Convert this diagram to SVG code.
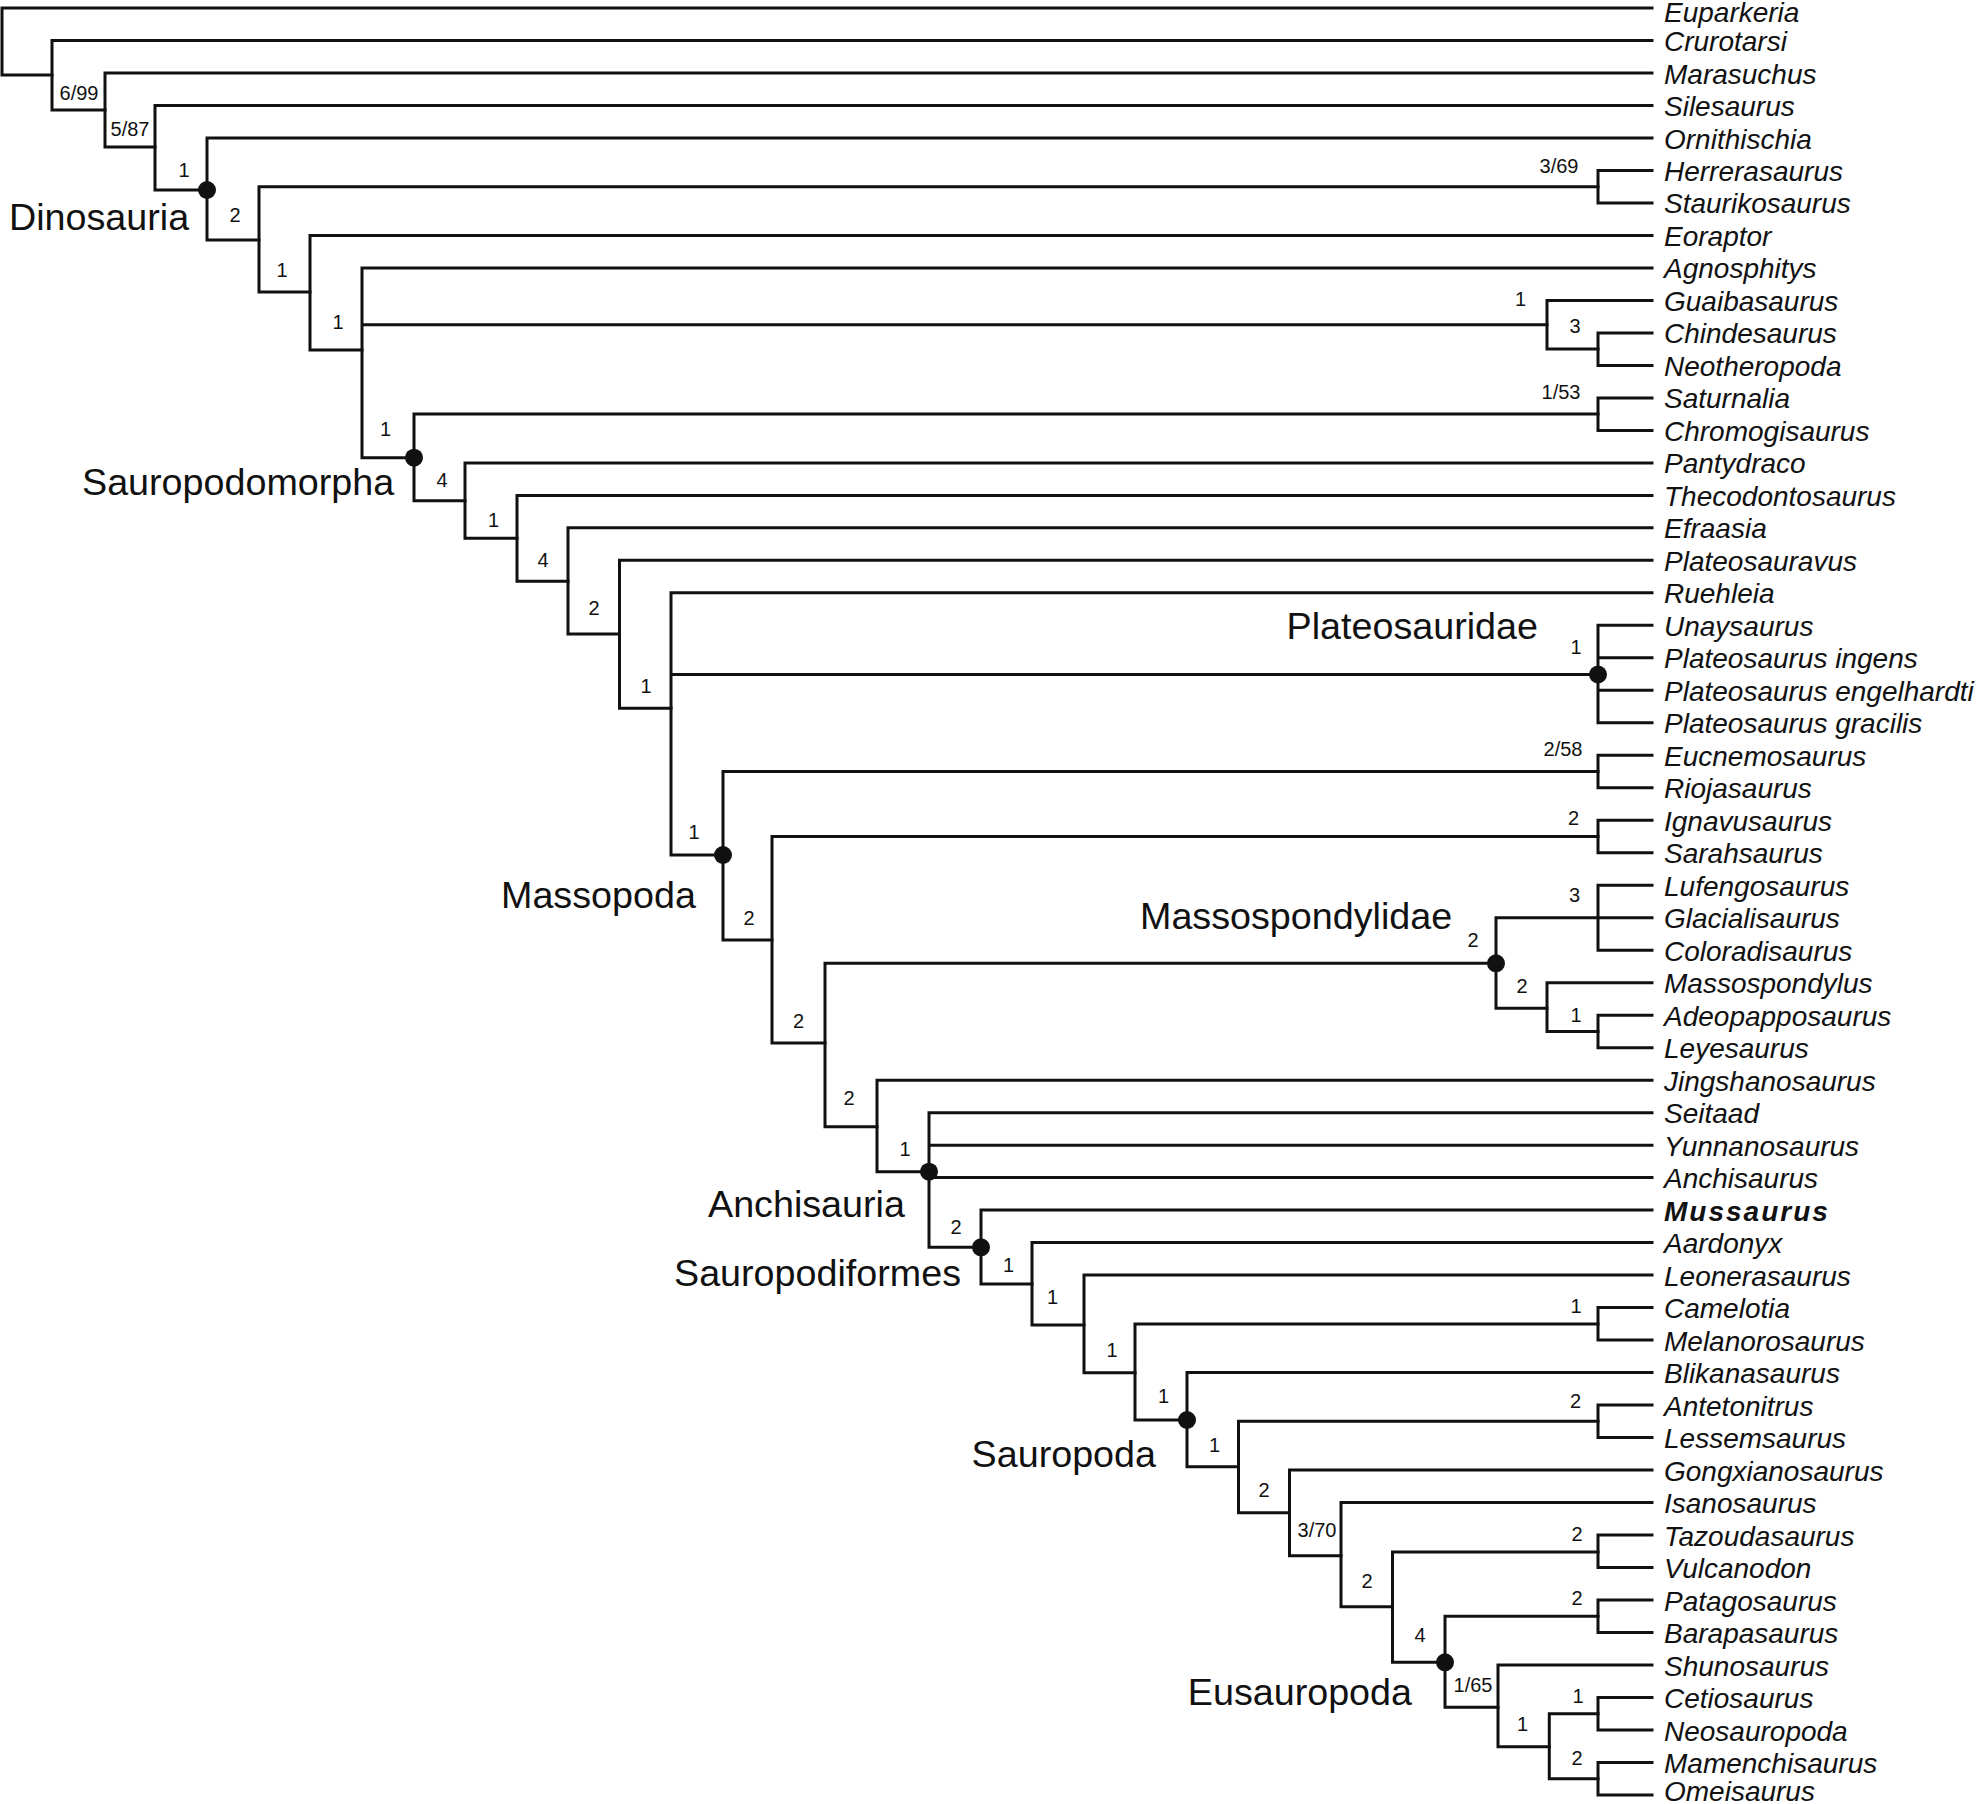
<svg xmlns="http://www.w3.org/2000/svg" width="1978" height="1804" viewBox="0 0 1978 1804">
<style>
.br{fill:none;stroke:#111;stroke-width:3;stroke-linecap:square;stroke-linejoin:miter}
.tx{font-family:"Liberation Sans",Arial,sans-serif;font-style:italic;font-size:28px;fill:#111}
.bold{font-weight:bold;letter-spacing:2px}
.sp{font-family:"Liberation Sans",Arial,sans-serif;font-size:20px;fill:#111;text-anchor:middle}
.cl{font-family:"Liberation Sans",Arial,sans-serif;font-size:37.7px;fill:#111}
.dot{fill:#111}
</style>
<rect width="1978" height="1804" fill="#fff"/>
<g id="connectors">
<path class="br" d="M1652,8 H2 V75 H52"/>
<path class="br" d="M1652,40.5 H52 V110 H105"/>
<path class="br" d="M1652,73 H105 V147 H155"/>
<path class="br" d="M1652,105.5 H155 V190 H207"/>
<path class="br" d="M1652,138 H207 V240 H259"/>
<path class="br" d="M1598,186.7 H259 V292 H310"/>
<path class="br" d="M1652,170.5 H1598 V202.9 H1652"/>
<path class="br" d="M1652,235.4 H310 V350 H362"/>
<path class="br" d="M1652,267.9 H362 V457.7 H414 M362,324.7 H1547"/>
<path class="br" d="M1652,300.4 H1547 V349.1 H1598"/>
<path class="br" d="M1652,332.9 H1598 V365.4 H1652"/>
<path class="br" d="M1598,414.1 H414 V500.7 H465"/>
<path class="br" d="M1652,397.9 H1598 V430.4 H1652"/>
<path class="br" d="M1652,462.9 H465 V538.3 H517"/>
<path class="br" d="M1652,495.4 H517 V581.3 H568"/>
<path class="br" d="M1652,527.8 H568 V634 H619.5"/>
<path class="br" d="M1652,560.3 H619.5 V708.3 H671"/>
<path class="br" d="M1652,592.8 H671 V855 H723 M671,674.5 H1598"/>
<path class="br" d="M1652,625.3 H1598 V722.8 H1652 M1598,657.8 H1652 M1598,690.3 H1652"/>
<path class="br" d="M1598,771.5 H723 V940 H772"/>
<path class="br" d="M1652,755.3 H1598 V787.8 H1652"/>
<path class="br" d="M1598,836.5 H772 V1043 H825"/>
<path class="br" d="M1652,820.3 H1598 V852.7 H1652"/>
<path class="br" d="M1496,963.3 H825 V1126.7 H877"/>
<path class="br" d="M1598,917.7 H1496 V1008.3 H1547"/>
<path class="br" d="M1652,885.2 H1598 V950.2 H1652 M1598,917.7 H1652"/>
<path class="br" d="M1652,982.7 H1547 V1031.5 H1598"/>
<path class="br" d="M1652,1015.2 H1598 V1047.7 H1652"/>
<path class="br" d="M1652,1080.2 H877 V1171.7 H929"/>
<path class="br" d="M1652,1112.7 H929 V1247.3 H981 M929,1145.2 H1652 M929,1177.6 H1652"/>
<path class="br" d="M1652,1210.1 H981 V1284 H1032"/>
<path class="br" d="M1652,1242.6 H1032 V1325 H1084"/>
<path class="br" d="M1652,1275.1 H1084 V1372.7 H1135"/>
<path class="br" d="M1598,1323.9 H1135 V1420 H1187"/>
<path class="br" d="M1652,1307.6 H1598 V1340.1 H1652"/>
<path class="br" d="M1652,1372.6 H1187 V1466.7 H1238.5"/>
<path class="br" d="M1598,1421.3 H1238.5 V1512.7 H1289.5"/>
<path class="br" d="M1652,1405.1 H1598 V1437.6 H1652"/>
<path class="br" d="M1652,1470.1 H1289.5 V1555.7 H1341"/>
<path class="br" d="M1652,1502.5 H1341 V1606.7 H1392.5"/>
<path class="br" d="M1598,1552 H1392.5 V1662.3 H1445"/>
<path class="br" d="M1652,1535 H1598 V1567.5 H1652"/>
<path class="br" d="M1598,1616.2 H1445 V1707.3 H1498"/>
<path class="br" d="M1652,1600 H1598 V1632.5 H1652"/>
<path class="br" d="M1652,1665 H1498 V1746.7 H1549.3"/>
<path class="br" d="M1598,1713.7 H1549.3 V1778.7 H1598"/>
<path class="br" d="M1652,1697.5 H1598 V1730 H1652"/>
<path class="br" d="M1652,1762.5 H1598 V1795 H1652"/>
</g>
<g id="clade-dinosauria"><circle class="dot" cx="207" cy="190" r="9"/><text class="cl" x="9" y="230">Dinosauria</text></g>
<g id="clade-sauropodomorpha"><circle class="dot" cx="414" cy="457.7" r="9"/><text class="cl" x="82" y="495">Sauropodomorpha</text></g>
<g id="clade-plateosauridae"><circle class="dot" cx="1598" cy="674.5" r="9"/><text class="cl" x="1538" y="639" text-anchor="end">Plateosauridae</text></g>
<g id="clade-massopoda"><circle class="dot" cx="723" cy="855" r="9"/><text class="cl" x="501" y="908">Massopoda</text></g>
<g id="clade-massospondylidae"><circle class="dot" cx="1496" cy="963.3" r="9"/><text class="cl" x="1140" y="929">Massospondylidae</text></g>
<g id="clade-anchisauria"><circle class="dot" cx="929" cy="1171.7" r="9"/><text class="cl" x="708" y="1216.5">Anchisauria</text></g>
<g id="clade-sauropodiformes"><circle class="dot" cx="981" cy="1247.3" r="9"/><text class="cl" x="674" y="1286">Sauropodiformes</text></g>
<g id="clade-sauropoda"><circle class="dot" cx="1187" cy="1420" r="9"/><text class="cl" x="1156" y="1467" text-anchor="end">Sauropoda</text></g>
<g id="clade-eusauropoda"><circle class="dot" cx="1445" cy="1662.3" r="9"/><text class="cl" x="1412" y="1705" text-anchor="end">Eusauropoda</text></g>
<g id="support">
<text class="sp" x="79" y="100">6/99</text>
<text class="sp" x="130" y="136">5/87</text>
<text class="sp" x="184" y="177">1</text>
<text class="sp" x="235" y="222">2</text>
<text class="sp" x="282" y="277">1</text>
<text class="sp" x="338" y="329">1</text>
<text class="sp" x="385.5" y="436">1</text>
<text class="sp" x="442" y="487">4</text>
<text class="sp" x="493.5" y="527">1</text>
<text class="sp" x="543" y="567">4</text>
<text class="sp" x="594" y="615">2</text>
<text class="sp" x="646" y="693">1</text>
<text class="sp" x="694" y="839">1</text>
<text class="sp" x="749" y="925">2</text>
<text class="sp" x="798.5" y="1028">2</text>
<text class="sp" x="849" y="1105">2</text>
<text class="sp" x="905" y="1156">1</text>
<text class="sp" x="956" y="1234">2</text>
<text class="sp" x="1008.5" y="1272">1</text>
<text class="sp" x="1052.5" y="1304">1</text>
<text class="sp" x="1112" y="1357">1</text>
<text class="sp" x="1163.5" y="1403">1</text>
<text class="sp" x="1214.5" y="1452">1</text>
<text class="sp" x="1264" y="1497">2</text>
<text class="sp" x="1317" y="1537">3/70</text>
<text class="sp" x="1367" y="1588">2</text>
<text class="sp" x="1420" y="1642">4</text>
<text class="sp" x="1473" y="1692">1/65</text>
<text class="sp" x="1522.5" y="1731">1</text>
<text class="sp" x="1559" y="173">3/69</text>
<text class="sp" x="1520.5" y="306">1</text>
<text class="sp" x="1575" y="333">3</text>
<text class="sp" x="1561" y="399">1/53</text>
<text class="sp" x="1576" y="654">1</text>
<text class="sp" x="1563" y="756">2/58</text>
<text class="sp" x="1573.5" y="825">2</text>
<text class="sp" x="1473" y="947">2</text>
<text class="sp" x="1574.5" y="902">3</text>
<text class="sp" x="1522" y="993">2</text>
<text class="sp" x="1576" y="1022">1</text>
<text class="sp" x="1576" y="1313">1</text>
<text class="sp" x="1575.5" y="1408">2</text>
<text class="sp" x="1577" y="1541">2</text>
<text class="sp" x="1577" y="1605">2</text>
<text class="sp" x="1578" y="1703">1</text>
<text class="sp" x="1577" y="1765">2</text>
</g>
<g id="taxa">
<g id="t-euparkeria"><text class="tx" x="1664" y="21.5">Euparkeria</text></g>
<g id="t-crurotarsi"><text class="tx" x="1664" y="51">Crurotarsi</text></g>
<g id="t-marasuchus"><text class="tx" x="1664" y="83.5">Marasuchus</text></g>
<g id="t-silesaurus"><text class="tx" x="1664" y="116">Silesaurus</text></g>
<g id="t-ornithischia"><text class="tx" x="1664" y="148.5">Ornithischia</text></g>
<g id="t-herrerasaurus"><text class="tx" x="1664" y="181">Herrerasaurus</text></g>
<g id="t-staurikosaurus"><text class="tx" x="1664" y="213.4">Staurikosaurus</text></g>
<g id="t-eoraptor"><text class="tx" x="1664" y="245.9">Eoraptor</text></g>
<g id="t-agnosphitys"><text class="tx" x="1664" y="278.4">Agnosphitys</text></g>
<g id="t-guaibasaurus"><text class="tx" x="1664" y="310.9">Guaibasaurus</text></g>
<g id="t-chindesaurus"><text class="tx" x="1664" y="343.4">Chindesaurus</text></g>
<g id="t-neotheropoda"><text class="tx" x="1664" y="375.9">Neotheropoda</text></g>
<g id="t-saturnalia"><text class="tx" x="1664" y="408.4">Saturnalia</text></g>
<g id="t-chromogisaurus"><text class="tx" x="1664" y="440.9">Chromogisaurus</text></g>
<g id="t-pantydraco"><text class="tx" x="1664" y="473.4">Pantydraco</text></g>
<g id="t-thecodontosaurus"><text class="tx" x="1664" y="505.9">Thecodontosaurus</text></g>
<g id="t-efraasia"><text class="tx" x="1664" y="538.3">Efraasia</text></g>
<g id="t-plateosauravus"><text class="tx" x="1664" y="570.8">Plateosauravus</text></g>
<g id="t-ruehleia"><text class="tx" x="1664" y="603.3">Ruehleia</text></g>
<g id="t-unaysaurus"><text class="tx" x="1664" y="635.8">Unaysaurus</text></g>
<g id="t-p-ingens"><text class="tx" x="1664" y="668.3">Plateosaurus ingens</text></g>
<g id="t-p-engelhardti"><text class="tx" x="1664" y="700.8">Plateosaurus engelhardti</text></g>
<g id="t-p-gracilis"><text class="tx" x="1664" y="733.3">Plateosaurus gracilis</text></g>
<g id="t-eucnemosaurus"><text class="tx" x="1664" y="765.8">Eucnemosaurus</text></g>
<g id="t-riojasaurus"><text class="tx" x="1664" y="798.3">Riojasaurus</text></g>
<g id="t-ignavusaurus"><text class="tx" x="1664" y="830.8">Ignavusaurus</text></g>
<g id="t-sarahsaurus"><text class="tx" x="1664" y="863.2">Sarahsaurus</text></g>
<g id="t-lufengosaurus"><text class="tx" x="1664" y="895.7">Lufengosaurus</text></g>
<g id="t-glacialisaurus"><text class="tx" x="1664" y="928.2">Glacialisaurus</text></g>
<g id="t-coloradisaurus"><text class="tx" x="1664" y="960.7">Coloradisaurus</text></g>
<g id="t-massospondylus"><text class="tx" x="1664" y="993.2">Massospondylus</text></g>
<g id="t-adeopapposaurus"><text class="tx" x="1664" y="1025.7">Adeopapposaurus</text></g>
<g id="t-leyesaurus"><text class="tx" x="1664" y="1058.2">Leyesaurus</text></g>
<g id="t-jingshanosaurus"><text class="tx" x="1664" y="1090.7">Jingshanosaurus</text></g>
<g id="t-seitaad"><text class="tx" x="1664" y="1123.2">Seitaad</text></g>
<g id="t-yunnanosaurus"><text class="tx" x="1664" y="1155.7">Yunnanosaurus</text></g>
<g id="t-anchisaurus"><text class="tx" x="1664" y="1188.1">Anchisaurus</text></g>
<g id="t-mussaurus"><text class="tx bold" x="1664" y="1220.6">Mussaurus</text></g>
<g id="t-aardonyx"><text class="tx" x="1664" y="1253.1">Aardonyx</text></g>
<g id="t-leonerasaurus"><text class="tx" x="1664" y="1285.6">Leonerasaurus</text></g>
<g id="t-camelotia"><text class="tx" x="1664" y="1318.1">Camelotia</text></g>
<g id="t-melanorosaurus"><text class="tx" x="1664" y="1350.6">Melanorosaurus</text></g>
<g id="t-blikanasaurus"><text class="tx" x="1664" y="1383.1">Blikanasaurus</text></g>
<g id="t-antetonitrus"><text class="tx" x="1664" y="1415.6">Antetonitrus</text></g>
<g id="t-lessemsaurus"><text class="tx" x="1664" y="1448.1">Lessemsaurus</text></g>
<g id="t-gongxianosaurus"><text class="tx" x="1664" y="1480.6">Gongxianosaurus</text></g>
<g id="t-isanosaurus"><text class="tx" x="1664" y="1513">Isanosaurus</text></g>
<g id="t-tazoudasaurus"><text class="tx" x="1664" y="1545.5">Tazoudasaurus</text></g>
<g id="t-vulcanodon"><text class="tx" x="1664" y="1578">Vulcanodon</text></g>
<g id="t-patagosaurus"><text class="tx" x="1664" y="1610.5">Patagosaurus</text></g>
<g id="t-barapasaurus"><text class="tx" x="1664" y="1643">Barapasaurus</text></g>
<g id="t-shunosaurus"><text class="tx" x="1664" y="1675.5">Shunosaurus</text></g>
<g id="t-cetiosaurus"><text class="tx" x="1664" y="1708">Cetiosaurus</text></g>
<g id="t-neosauropoda"><text class="tx" x="1664" y="1740.5">Neosauropoda</text></g>
<g id="t-mamenchisaurus"><text class="tx" x="1664" y="1773">Mamenchisaurus</text></g>
<g id="t-omeisaurus"><text class="tx" x="1664" y="1801">Omeisaurus</text></g>
</g>
</svg>
